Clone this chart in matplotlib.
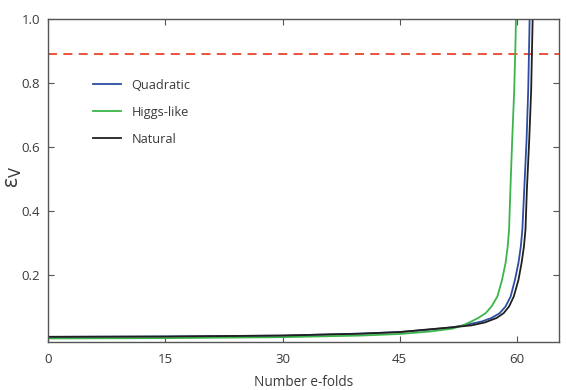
"""Slow-roll parameter epsilon_V against number of e-folds for three potentials."""

import matplotlib

matplotlib.use("Agg")
import matplotlib.pyplot as plt

plt.rcParams["font.family"] = ["Open Sans", "DejaVu Sans"]

# values
quad_n = [0, 15, 30, 40, 45, 49, 51.8, 54.0, 55.5, 56.75, 57.8, 58.55, 59.2,
          59.75, 60.2, 60.5, 60.7, 60.94, 61.24, 61.45, 61.58, 61.63, 61.65]
quad_eps = [0.006, 0.007, 0.010, 0.016, 0.021, 0.029, 0.036, 0.046, 0.054,
            0.065, 0.080, 0.101, 0.132, 0.184, 0.237, 0.288, 0.341, 0.466,
            0.622, 0.778, 0.934, 1.0, 1.05]

higgs_n = [0, 15, 30, 40, 45, 49, 51.8, 53.0, 54.0, 55.05, 56.0, 56.75, 57.5,
           58.1, 58.55, 58.82, 59.0, 59.17, 59.4, 59.66, 59.83, 59.88, 59.9]
higgs_eps = [0.001, 0.002, 0.005, 0.010, 0.015, 0.023, 0.032, 0.041, 0.052,
             0.065, 0.080, 0.101, 0.132, 0.184, 0.237, 0.288, 0.341, 0.466,
             0.622, 0.778, 0.934, 1.0, 1.05]

natural_n = [0, 15, 30, 40, 45, 49, 51.8, 54.2, 55.9, 57.4, 58.3, 59.0, 59.6,
             60.2, 60.6, 60.9, 61.1, 61.28, 61.58, 61.83, 61.96, 62.02, 62.05]
natural_eps = [0.006, 0.007, 0.010, 0.016, 0.021, 0.030, 0.036, 0.042, 0.051,
               0.065, 0.080, 0.101, 0.132, 0.184, 0.237, 0.288, 0.341, 0.466,
               0.622, 0.778, 0.934, 1.0, 1.05]

end_level = 0.89  # dashed reference line

x_ticks = [0, 15, 30, 45, 60]
y_ticks = [0.2, 0.4, 0.6, 0.8, 1.0]

text_col = "#3a3a3a"

fig = plt.figure(figsize=(5.67, 3.9), dpi=100)
ax = fig.add_axes([0.085, 0.124, 0.901, 0.827])

ax.axhline(end_level, color="#e8452b", lw=1.3, ls=(0, (5, 3.5)))
ax.plot(quad_n, quad_eps, color="#2b4ea2", lw=1.3, label="Quadratic")
ax.plot(higgs_n, higgs_eps, color="#3ab54a", lw=1.3, label="Higgs-like")
ax.plot(natural_n, natural_eps, color="#231f20", lw=1.3, label="Natural")

ax.set_xlim(0, 65.4)
ax.set_ylim(-0.009, 1.0)
ax.set_xticks(x_ticks)
ax.set_yticks(y_ticks)
ax.set_yticklabels([f"{v:.1f}" for v in y_ticks])

ax.tick_params(direction="in", top=True, right=True, length=4, width=0.8,
               color="#555555", labelsize=9.5, labelcolor=text_col, pad=6)
ax.tick_params(axis="x", pad=8)
for sp in ax.spines.values():
    sp.set_color("#555555")
    sp.set_linewidth(1.0)

ax.set_xlabel("Number e-folds", fontsize=9.8, color=text_col, labelpad=7)
# y label placed by hand so it stays inside the canvas
fig.text(0.024, 0.545, r"ε$_{\rm V}$", rotation=90, ha="center", va="center",
         fontsize=15, color=text_col)

leg = ax.legend(loc="upper left", bbox_to_anchor=(0.088, 0.815), frameon=False,
                fontsize=9.2, handlelength=2.2, handletextpad=0.8,
                labelspacing=1.1, borderpad=0, borderaxespad=0)
for t in leg.get_texts():
    t.set_color(text_col)

fig.savefig("out.png", dpi=100)
